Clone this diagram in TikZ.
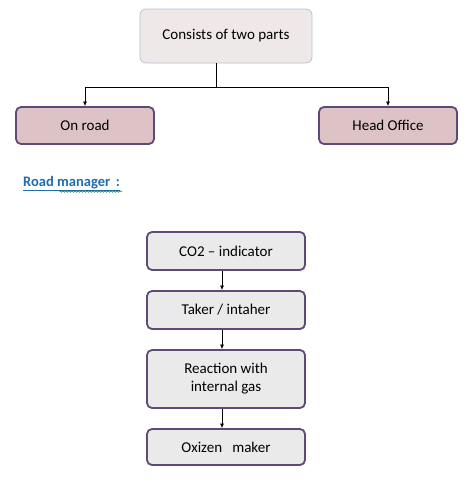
\documentclass[tikz,border=0pt]{standalone}
\usepackage{fontspec}
\setmainfont{Carlito}
\usetikzlibrary{arrows.meta,decorations.pathmorphing}
\definecolor{boxline}{HTML}{5E4A78}
\definecolor{topfill}{HTML}{EEE8E8}
\definecolor{topline}{HTML}{B9C1D1}
\definecolor{pinkfill}{HTML}{DEC3C6}
\definecolor{grayfill}{HTML}{EBEAEA}
\definecolor{headblue}{HTML}{1F6CB0}
\tikzset{
  topbox/.style={draw=topline, fill=topfill, rounded corners=6pt, line width=0.8pt,
    minimum width=172pt, minimum height=54pt},
  partbox/.style={draw=boxline, fill=pinkfill, rounded corners=5pt, line width=1.8pt,
    minimum width=138pt, minimum height=37pt},
  stepbox/.style={draw=boxline, fill=grayfill, rounded corners=5pt, line width=1.8pt,
    minimum width=158pt, align=center},
  link/.style={-{Latex[length=4.5pt,width=4pt]}, line width=0.7pt}
}
\begin{document}
\begin{tikzpicture}[x=1pt, y=-1pt, every node/.append style={font=\fontsize{15}{18}\selectfont}]
  \useasboundingbox (0,0) rectangle (474,482);
  \node[topbox] (parts) at (226,36) {Consists of two parts};
  \node[partbox] (road) at (85,125.5) {On road};
  \node[partbox] (office) at (388,125.5) {Head Office};
  \coordinate (split) at (216,87);
  \draw[line width=0.7pt] (parts.south -| split) -- (split);
  \draw[link] (split) -| (road.north);
  \draw[link] (split) -| (office.north);
  % road manager heading
  \node[anchor=base west, inner sep=0pt, text=headblue, font=\fontsize{14.5}{17}\selectfont\bfseries] (head) at (23,186)
    {\underline{Road manager\ \,:}};
  \draw[green!50!black, line width=0.5pt, decorate, decoration={snake, amplitude=0.8pt, segment length=3pt}]
    (59,191.5) -- (122,191.5);
  % steps
  \node[stepbox, minimum height=38pt] (co) at (226,251) {CO2 -- indicator};
  \node[stepbox, minimum height=38pt] (taker) at (226,310) {Taker / intaher};
  \node[stepbox, minimum height=58pt] (react) at (226,379) {Reaction with\\internal gas};
  \node[stepbox, minimum height=36pt] (oxi) at (226,447) {Oxizen\ \ \ maker};
  \draw[link] ([xshift=-4pt]co.south) -- ([xshift=-4pt]taker.north);
  \draw[link] ([xshift=-4pt]taker.south) -- ([xshift=-4pt]react.north);
  \draw[link] ([xshift=-4pt]react.south) -- ([xshift=-4pt]oxi.north);
\end{tikzpicture}
\end{document}
